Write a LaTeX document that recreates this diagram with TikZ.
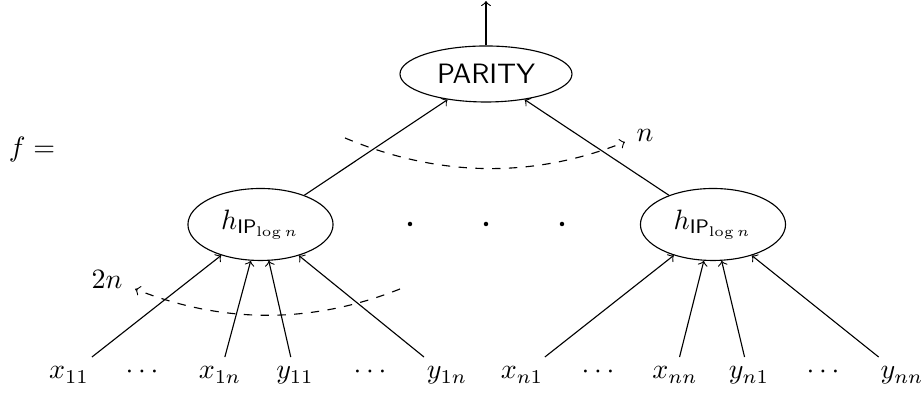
\documentclass[tikz,border=0pt]{standalone}
\usetikzlibrary{shapes.geometric}
\begin{document}
\begin{tikzpicture}[x=0.357pt,y=0.357pt,
  oval/.style={draw,ellipse,inner sep=0pt},
  leaf/.style={anchor=base,inner sep=3.33pt},
  dotnode/.style={circle,fill,inner sep=0pt,minimum size=1.6pt},
  arcline/.style={dashed,->}]
\useasboundingbox (0,0) rectangle (923,393);
% main nodes
\node[oval,minimum width=61.4pt,minimum height=20pt] (P) at (486,319) {\textsf{PARITY}};
\coordinate (top) at (486,392);
\node[oval,minimum width=51.8pt,minimum height=25.7pt] (h1) at (260.5,168.5) {$h_{\mathsf{IP}_{\log n}}$};
\node[oval,minimum width=51.8pt,minimum height=25.7pt] (h2) at (713,168.5) {$h_{\mathsf{IP}_{\log n}}$};
\node (f) at (32,243) {$f=$};
% dots between subtrees
\node[dotnode] (d1) at (410,169) {};
\node[dotnode] (d2) at (486,169) {};
\node[dotnode] (d3) at (562,169) {};
% leaves
\node[leaf] (x11) at (69,14) {$x_{11}$};
\node[leaf] (c1) at (142,14) {$\cdots$};
\node[leaf] (x1n) at (220,14) {$x_{1n}$};
\node[leaf] (y11) at (295,14) {$y_{11}$};
\node[leaf] (c2) at (370,14) {$\cdots$};
\node[leaf] (y1n) at (447,14) {$y_{1n}$};
\node[leaf] (xn1) at (522,14) {$x_{n1}$};
\node[leaf] (c3) at (598,14) {$\cdots$};
\node[leaf] (xnn) at (675,14) {$x_{nn}$};
\node[leaf] (yn1) at (749,14) {$y_{n1}$};
\node[leaf] (c4) at (823,14) {$\cdots$};
\node[leaf] (ynn) at (902,14) {$y_{nn}$};
% edges
\draw[->] (P) -- (top);
\draw[->] (h1) -- (P);
\draw[->] (h2) -- (P);
\foreach \l in {x11,x1n,y11,y1n} \draw[->] (\l) -- (h1);
\foreach \l in {xn1,xnn,yn1,ynn} \draw[->] (\l) -- (h2);
% dashed arcs
\coordinate (ua) at (345,255);
\coordinate (ub) at (625,251);
\draw[arcline] (ua) .. controls (438,216) and (532,214) .. (ub);
\node (nl) at (645,258) {$n$};
\coordinate (la) at (400,104);
\coordinate (lb) at (135,104);
\draw[arcline] (la) .. controls (312,69) and (223,69) .. (lb);
\node (nl2) at (107,114) {$2n$};
\end{tikzpicture}
\end{document}
